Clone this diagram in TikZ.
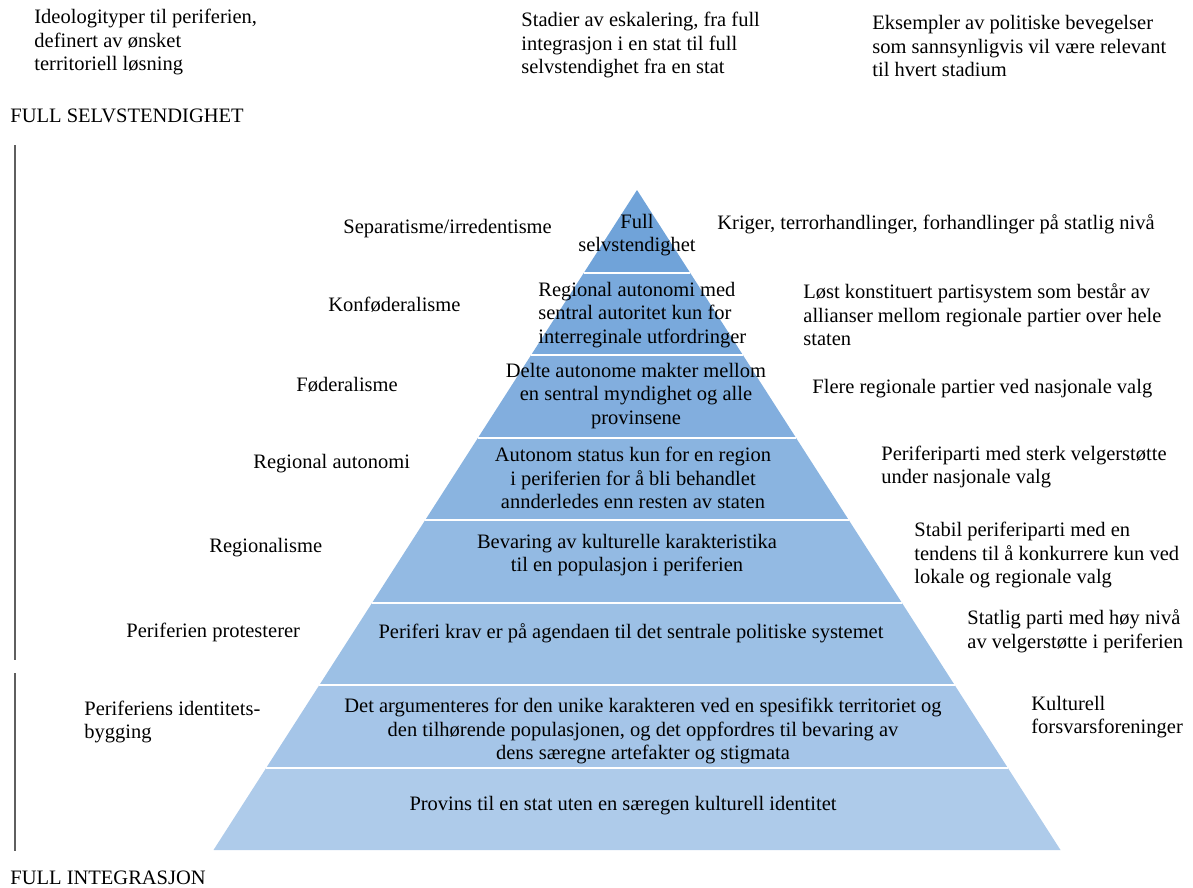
\documentclass[tikz,border=0pt]{standalone}
\usepackage{fontspec}
\setmainfont{Liberation Serif}
\usetikzlibrary{positioning, calc}
\definecolor{pyrtop}{RGB}{112,163,217}
\definecolor{pyrbot}{RGB}{174,203,234}
\definecolor{rulegray}{RGB}{95,95,95}

\begin{document}
\begin{tikzpicture}[
  x=0.5pt, y=-0.5pt,
  every node/.style={font=\fontsize{10.25}{11.8}\selectfont, inner sep=0pt},
  heading/.style={anchor=west, align=left},
  band/.style={align=center},
  ideology/.style={anchor=west, align=left},
  movement/.style={anchor=west, align=left},
  axisline/.style={draw=rulegray, line width=1pt},
  gap/.style={draw=white, line width=1pt},
]
  \useasboundingbox (0,0) rectangle (1193,888);

  % pyramid bands, darker towards the top
  \foreach \k in {1,...,8} {
    \pgfmathsetmacro{\ya}{190+82.5*(\k-1)}
    \pgfmathsetmacro{\yb}{190+82.5*\k}
    \pgfmathsetmacro{\wa}{0.641667*(\ya-190)}
    \pgfmathsetmacro{\wb}{0.641667*(\yb-190)}
    \pgfmathsetmacro{\bandmix}{100-100*(\k-1)/7}
    \fill[pyrtop!\bandmix!pyrbot] (637-\wa,\ya) -- (637+\wa,\ya) -- (637+\wb,\yb) -- (637-\wb,\yb) -- cycle;
  }
  \foreach \k in {1,...,7} {
    \pgfmathsetmacro{\yk}{190+82.5*\k}
    \pgfmathsetmacro{\wk}{0.641667*(\yk-190)}
    \draw[gap] (637-\wk,\yk) -- (637+\wk,\yk);
  }

  % column headings
  \node[heading] (h1) at (34,42) {Ideologityper til periferien,\\definert av ønsket\\territoriell løsning};
  \node[heading] (h2) at (521,45) {Stadier av eskalering, fra full\\integrasjon i en stat til full\\selvstendighet fra en stat};
  \node[heading] (h3) at (872,46) {Eksempler av politiske bevegelser\\som sannsynligvis vil være relevant\\til hvert stadium};

  % the two ends of the scale
  \node[heading] (top) at (10,116) {FULL SELVSTENDIGHET};
  \node[heading] (bottom) at (10,878) {FULL INTEGRASJON};
  \draw[axisline] (15,145) -- (15,660);
  \draw[axisline] (15,673) -- (15,851);

  % stages inside the pyramid
  \node[band] (b1) at (637,235) {Full\\selvstendighet};
  \node[anchor=west, align=left] (b2) at (538,315) {Regional autonomi med\\sentral autoritet kun for\\interreginale utfordringer};
  \node[band] (b3) at (636,396) {Delte autonome makter mellom\\en sentral myndighet og alle\\provinsene};
  \node[band] (b4) at (633,478) {Autonom status kun for en region\\i periferien for å bli behandlet\\annderledes enn resten av staten};
  \node[band] (b5) at (627,555) {Bevaring av kulturelle karakteristika\\til en populasjon i periferien};
  \node[band] (b6) at (631,633) {Periferi krav er på agendaen til det sentrale politiske systemet};
  \node[band] (b7) at (643,731) {Det argumenteres for den unike karakteren ved en spesifikk territoriet og\\den tilhørende populasjonen, og det oppfordres til bevaring av\\dens særegne artefakter og stigmata};
  \node[band] (b8) at (623,806) {Provins til en stat uten en særegen kulturell identitet};

  % ideologies on the left
  \node[ideology] (l1) at (343,229) {Separatisme/irredentisme};
  \node[ideology] (l2) at (328,305) {Konføderalisme};
  \node[ideology] (l3) at (296,385) {Føderalisme};
  \node[ideology] (l4) at (253,464) {Regional autonomi};
  \node[ideology] (l5) at (209,548) {Regionalisme};
  \node[ideology] (l6) at (126,632) {Periferien protesterer};
  \node[ideology] (l7) at (84,722) {Periferiens identitets-\\bygging};

  % movements on the right
  \node[movement] (r1) at (717,224) {Kriger, terrorhandlinger, forhandlinger på statlig nivå};
  \node[movement] (r2) at (803,315) {Løst konstituert partisystem som består av\\allianser mellom regionale partier over hele\\staten};
  \node[movement] (r3) at (812,389) {Flere regionale partier ved nasjonale valg};
  \node[movement] (r4) at (881,467) {Periferiparti med sterk velgerstøtte\\under nasjonale valg};
  \node[movement] (r5) at (914,555) {Stabil periferiparti med en\\tendens til å konkurrere kun ved\\lokale og regionale valg};
  \node[movement] (r6) at (967,631) {Statlig parti med høy nivå\\av velgerstøtte i periferien};
  \node[movement] (r7) at (1031,717) {Kulturell\\forsvarsforeninger};
\end{tikzpicture}
\end{document}
